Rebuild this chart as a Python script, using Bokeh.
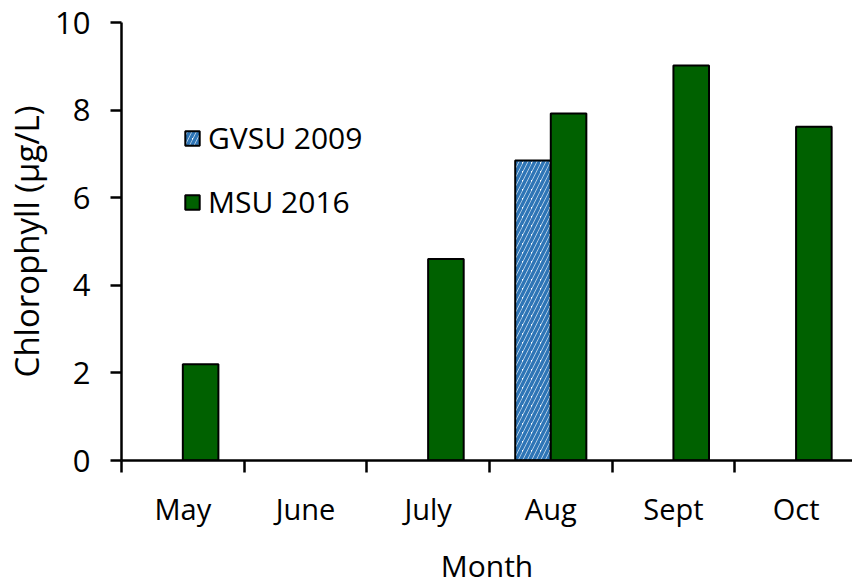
from bokeh.plotting import figure
from bokeh.models import ColumnDataSource, FixedTicker, Legend, LegendItem
from bokeh.embed import file_html
from bokeh.resources import INLINE

months = ["May", "June", "July", "Aug", "Sept", "Oct"]
gvsu_2009 = [None, None, None, 6.85, None, None]
msu_2016 = [2.2, None, 4.6, 7.92, 9.02, 7.62]
y_ticks = [0, 2, 4, 6, 8, 10]

FONT = "Open Sans"
GREEN = "#006100"
BLUE = "#2e75b6"
BAR_W = 0.29

centers = [i + 0.5 for i in range(len(months))]
gx, gt = [], []
for c, v in zip(centers, gvsu_2009):
    if v is not None:
        gx.append(c - BAR_W / 2); gt.append(v)
mx, mt = [], []
for c, v in zip(centers, msu_2016):
    if v is not None:
        mx.append(c + BAR_W / 2); mt.append(v)

p = figure(width=852, height=588, output_backend="svg", toolbar_location=None,
           x_range=(0, 5.96), y_range=(0, 10),
           min_border_left=121, min_border_right=0, min_border_top=22, min_border_bottom=126)
p.outline_line_color = None
p.grid.grid_line_color = None
p.background_fill_color = "white"
p.border_fill_color = "white"

r_g = p.vbar(x=gx, top=gt, width=BAR_W, bottom=0, fill_color="white",
             hatch_pattern="right_diagonal_line", hatch_color=BLUE, hatch_scale=9, hatch_weight=3.5,
             line_color="black", line_width=2)
r_m = p.vbar(x=mx, top=mt, width=BAR_W, bottom=0, fill_color=GREEN,
             line_color="black", line_width=2)

xa = p.xaxis[0]
xa.ticker = FixedTicker(ticks=centers, minor_ticks=list(range(len(months) + 1)))
xa.major_label_overrides = {c: m for c, m in zip(centers, months)}
xa.major_tick_line_color = None
xa.minor_tick_in = 0
xa.minor_tick_out = 12
xa.minor_tick_line_width = 2.5
xa.minor_tick_line_color = "black"
xa.axis_line_width = 2.5
xa.major_label_standoff = 16
xa.major_label_text_font = FONT
xa.major_label_text_font_size = "29px"
xa.major_label_text_color = "black"
xa.axis_label = "Month"
xa.axis_label_text_font = FONT
xa.axis_label_text_font_size = "30px"
xa.axis_label_text_font_style = "normal"
xa.axis_label_text_color = "black"
xa.axis_label_standoff = 14

ya = p.yaxis[0]
ya.ticker = FixedTicker(ticks=y_ticks)
ya.minor_tick_line_color = None
ya.major_tick_in = 0
ya.major_tick_out = 11
ya.major_tick_line_width = 2.5
ya.axis_line_width = 2.5
ya.major_label_standoff = 20
ya.major_label_text_font = FONT
ya.major_label_text_font_size = "31px"
ya.major_label_text_color = "black"
ya.axis_label = "Chlorophyll (µg/L)"
ya.axis_label_text_font = FONT
ya.axis_label_text_font_size = "33px"
ya.axis_label_text_font_style = "normal"
ya.axis_label_text_color = "black"
ya.axis_label_standoff = 3

legend = Legend(items=[LegendItem(label="GVSU 2009", renderers=[r_g]),
                       LegendItem(label="MSU 2016", renderers=[r_m])],
                location=(62, 238), orientation="vertical",
                glyph_width=18, glyph_height=18, label_height=30, spacing=23,
                label_text_font=FONT, label_text_font_size="30px", label_text_color="black",
                label_standoff=7, border_line_color=None, background_fill_alpha=0,
                padding=0, margin=0)
p.add_layout(legend)

open("out.html", "w").write(file_html(p, INLINE))
